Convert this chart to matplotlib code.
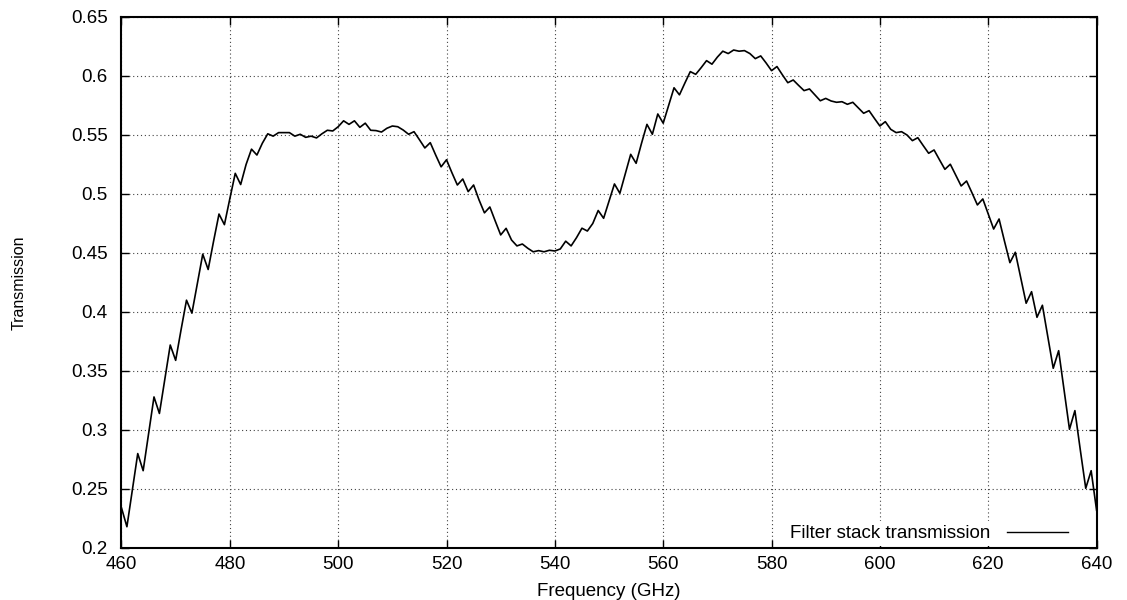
import numpy as np
import matplotlib
matplotlib.use("Agg")
import matplotlib.pyplot as plt
from matplotlib.ticker import FuncFormatter

# filter stack transmission, one sample per GHz from 460 to 640
freq_ghz = np.arange(460, 641)
transmission = [
    0.234, 0.218, 0.249, 0.280, 0.2655, 0.297, 0.328, 0.314, 0.343, 0.372,   # 460
    0.359, 0.385, 0.410, 0.399, 0.424, 0.449, 0.436, 0.460, 0.483, 0.474,    # 470
    0.496, 0.5175, 0.508, 0.525, 0.538, 0.533, 0.543, 0.551, 0.549, 0.552,   # 480
    0.552, 0.552, 0.549, 0.5506, 0.548, 0.549, 0.5475, 0.551, 0.554, 0.5534, # 490
    0.557, 0.562, 0.559, 0.562, 0.5565, 0.560, 0.554, 0.5537, 0.5525, 0.5557,  # 500
    0.5576, 0.557, 0.5542, 0.5506, 0.5528, 0.546, 0.539, 0.5435, 0.533, 0.523, # 510
    0.529, 0.518, 0.5076, 0.5127, 0.502, 0.5076, 0.495, 0.484, 0.489, 0.477,   # 520
    0.4653, 0.4709, 0.461, 0.456, 0.4576, 0.454, 0.451, 0.452, 0.451, 0.4523,  # 530
    0.4517, 0.4534, 0.460, 0.456, 0.463, 0.471, 0.4686, 0.475, 0.486, 0.4794,  # 540
    0.494, 0.5085, 0.5006, 0.517, 0.5336, 0.526, 0.543, 0.559, 0.5506, 0.5678, # 550
    0.560, 0.575, 0.590, 0.584, 0.594, 0.6037, 0.6014, 0.607, 0.613, 0.610,    # 560
    0.616, 0.621, 0.619, 0.622, 0.621, 0.6215, 0.619, 0.6147, 0.617, 0.611,    # 570
    0.6045, 0.608, 0.601, 0.5943, 0.5966, 0.592, 0.5876, 0.589, 0.584, 0.579,  # 580
    0.581, 0.5788, 0.5777, 0.5782, 0.576, 0.5777, 0.573, 0.5684, 0.5706, 0.564, # 590
    0.5576, 0.5613, 0.5548, 0.552, 0.5528, 0.550, 0.5452, 0.5477, 0.541, 0.5345, # 600
    0.5373, 0.529, 0.5209, 0.5252, 0.516, 0.5068, 0.511, 0.501, 0.4907, 0.4958, # 610
    0.483, 0.4703, 0.4788, 0.460, 0.4418, 0.4506, 0.429, 0.4074, 0.4172, 0.3955, # 620
    0.4057, 0.379, 0.3523, 0.3672, 0.334, 0.3006, 0.3164, 0.283, 0.2506, 0.2655, # 630
    0.232,                                                                      # 640
]

x_ticks = [460, 480, 500, 520, 540, 560, 580, 600, 620, 640]
y_ticks = [0.2, 0.25, 0.3, 0.35, 0.4, 0.45, 0.5, 0.55, 0.6, 0.65]

plt.rcParams['font.family'] = ['Liberation Sans', 'DejaVu Sans']
plt.rcParams['font.size'] = 13.5

fig = plt.figure(figsize=(11.27, 6.0), dpi=100)
ax = fig.add_axes([0.1078, 0.0867, 0.8652, 0.885])

ax.plot(freq_ghz, transmission, color='black', lw=1.2,
        label='Filter stack transmission')

ax.set_xlim(460, 640)
ax.set_ylim(0.2, 0.65)
ax.set_xticks(x_ticks)
ax.set_yticks(y_ticks)
ax.yaxis.set_major_formatter(FuncFormatter(lambda v, pos: '%g' % v))

ax.grid(True, color='#444444', lw=0.8, linestyle=(0, (1, 2.5)))
ax.tick_params(direction='in', length=6, width=1, top=True, right=True)
ax.tick_params(axis='y', pad=10)
ax.tick_params(axis='x', pad=6)
for axis in ['top', 'bottom', 'left', 'right']:
    ax.spines[axis].set_linewidth(1.5)

ax.set_xlabel('Frequency (GHz)', labelpad=7)
ax.set_ylabel('Transmission', fontsize=11.5, labelpad=32)

leg = ax.legend(loc='lower right', bbox_to_anchor=(0.975, 0.004),
                markerfirst=False, fancybox=False, framealpha=1,
                edgecolor='none', handlelength=3.3, handletextpad=0.85,
                borderaxespad=0, borderpad=0.2)
leg.get_lines()[0].set_linewidth(1.0)

fig.savefig('out.png', dpi=100)
